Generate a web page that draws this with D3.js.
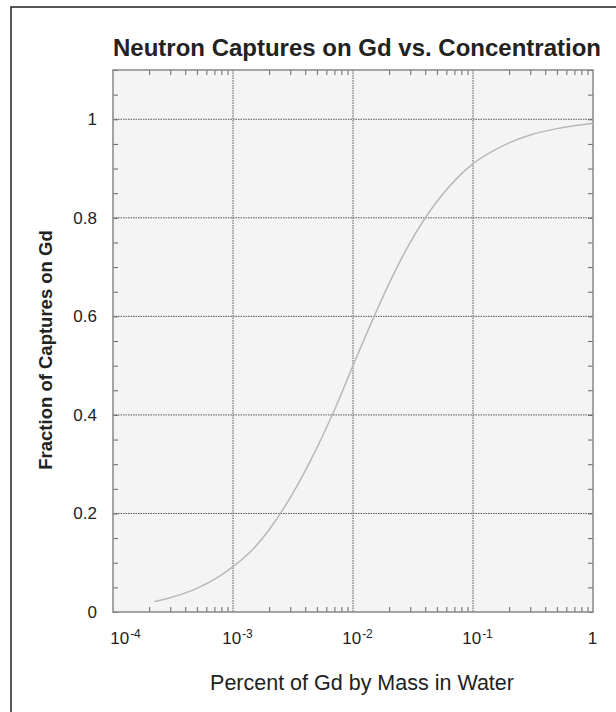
<!DOCTYPE html>
<html>
<head>
  <meta charset="utf-8">
  <title>Neutron Captures on Gd</title>
  <script src="https://cdn.jsdelivr.net/npm/d3@7"></script>
  <style>
    body { margin: 0; background: #fff; }
    svg { font-family: "Liberation Sans", Arial, sans-serif; }
    .axis path { display: none; }
    .axis line { stroke: #666; stroke-width: 1; }
    .axis text { fill: #222; font-size: 17px; }
    .grid line { stroke: #555; stroke-width: 1; stroke-dasharray: 1.5,1; }
  </style>
</head>
<body>
  <div id="chart"></div>
  <script>
    // data
    const conc = [2.2e-4, 3e-4, 5e-4, 7e-4, 1e-3, 1.5e-3, 2e-3, 3e-3, 5e-3, 7e-3, 1e-2,
                  1.5e-2, 2e-2, 3e-2, 5e-2, 7e-2, 0.1, 0.15, 0.2, 0.3, 0.5, 0.7, 1]
    const frac = [0.021, 0.029, 0.048, 0.066, 0.092, 0.13, 0.167, 0.232, 0.333, 0.41, 0.50,
                  0.60, 0.667, 0.75, 0.833, 0.875, 0.91, 0.937, 0.952, 0.968, 0.981, 0.987, 0.992]
    const xDecades = [1e-4, 1e-3, 1e-2, 1e-1, 1]
    const xLabelBase = ['10', '10', '10', '10', '1']
    const xLabelExp = ['-4', '-3', '-2', '-1', '']
    const yTicks = [0, 0.2, 0.4, 0.6, 0.8, 1]

    const width = 616
    const height = 712
    const plotL = 113, plotR = 593, plotT = 70, plotB = 612

    const svg = d3.select('#chart').append('svg')
      .attr('width', width)
      .attr('height', height)

    // outer frame (left and top edges visible)
    svg.append('path')
      .attr('d', `M11,${height} L11,7 L${width},7`)
      .attr('fill', 'none')
      .attr('stroke', '#222')
      .attr('stroke-width', 1.5)

    const x = d3.scaleLog().domain([1e-4, 1]).range([plotL, plotR])
    const y = d3.scaleLinear().domain([0, 1.1]).range([plotB, plotT])

    // plot background
    svg.append('rect')
      .attr('x', plotL).attr('y', plotT)
      .attr('width', plotR - plotL).attr('height', plotB - plotT)
      .attr('fill', '#f4f4f4')

    // grid
    svg.append('g').attr('class', 'grid')
      .selectAll('line').data(xDecades.slice(1, -1)).enter().append('line')
      .attr('x1', d => x(d)).attr('x2', d => x(d))
      .attr('y1', plotT).attr('y2', plotB)
    svg.append('g').attr('class', 'grid')
      .selectAll('line').data(yTicks.slice(1)).enter().append('line')
      .attr('x1', plotL).attr('x2', plotR)
      .attr('y1', d => y(d)).attr('y2', d => y(d))

    // minor ticks, inside the frame
    const xMinor = x.ticks().filter(d => !xDecades.some(v => Math.abs(v - d) / v < 1e-6))
    const yMinor = y.ticks(22)
    svg.append('g').attr('class', 'axis')
      .attr('transform', `translate(0,${plotB})`)
      .call(d3.axisBottom(x).tickValues(xMinor).tickSize(-5).tickFormat(''))
    svg.append('g').attr('class', 'axis')
      .attr('transform', `translate(0,${plotT})`)
      .call(d3.axisTop(x).tickValues(xMinor).tickSize(-5).tickFormat(''))
    svg.append('g').attr('class', 'axis')
      .attr('transform', `translate(${plotL},0)`)
      .call(d3.axisLeft(y).tickValues(yMinor).tickSize(-5).tickFormat(''))
    svg.append('g').attr('class', 'axis')
      .attr('transform', `translate(${plotR},0)`)
      .call(d3.axisRight(y).tickValues(yMinor).tickSize(-5).tickFormat(''))

    // y labels
    svg.append('g').attr('class', 'axis')
      .attr('transform', `translate(${plotL},0)`)
      .call(d3.axisLeft(y).tickValues(yTicks).tickSize(0).tickPadding(16).tickFormat(d3.format('~g')))

    // x labels with superscripts
    const xLab = svg.append('g').attr('class', 'axis')
      .attr('transform', `translate(0,${plotB})`)
      .call(d3.axisBottom(x).tickValues(xDecades).tickSize(0).tickFormat(''))
    xLab.selectAll('.tick').each(function (d, i) {
      const t = d3.select(this).append('text')
        .attr('y', 32)
        .attr('text-anchor', 'middle')
        .attr('dx', i === 0 ? 12 : (i === 4 ? -1 : 4))
      t.append('tspan').text(xLabelBase[i])
      if (xLabelExp[i]) {
        t.append('tspan').attr('dx', 1).attr('dy', -6).attr('font-size', '12px').text(xLabelExp[i])
      }
    })

    // frame of the plot
    svg.append('rect')
      .attr('x', plotL).attr('y', plotT)
      .attr('width', plotR - plotL).attr('height', plotB - plotT)
      .attr('fill', 'none')
      .attr('stroke', '#888')
      .attr('stroke-width', 1.5)

    // curve
    const line = d3.line()
      .x((d, i) => x(conc[i]))
      .y(d => y(d))
      .curve(d3.curveMonotoneX)
    svg.append('path')
      .datum(frac)
      .attr('d', line)
      .attr('fill', 'none')
      .attr('stroke', '#b8b8b8')
      .attr('stroke-width', 1.5)

    // titles
    svg.append('text')
      .attr('x', 357).attr('y', 56)
      .attr('text-anchor', 'middle')
      .attr('font-size', '24px').attr('font-weight', 'bold')
      .attr('fill', '#222')
      .text('Neutron Captures on Gd vs. Concentration')
    svg.append('text')
      .attr('x', 362).attr('y', 690)
      .attr('text-anchor', 'middle')
      .attr('font-size', '21.5px')
      .attr('fill', '#222')
      .text('Percent of Gd by Mass in Water')
    svg.append('text')
      .attr('transform', 'translate(52,350) rotate(-90)')
      .attr('text-anchor', 'middle')
      .attr('font-size', '18.5px').attr('font-weight', 'bold')
      .attr('fill', '#222')
      .text('Fraction of Captures on Gd')
  </script>
</body>
</html>
